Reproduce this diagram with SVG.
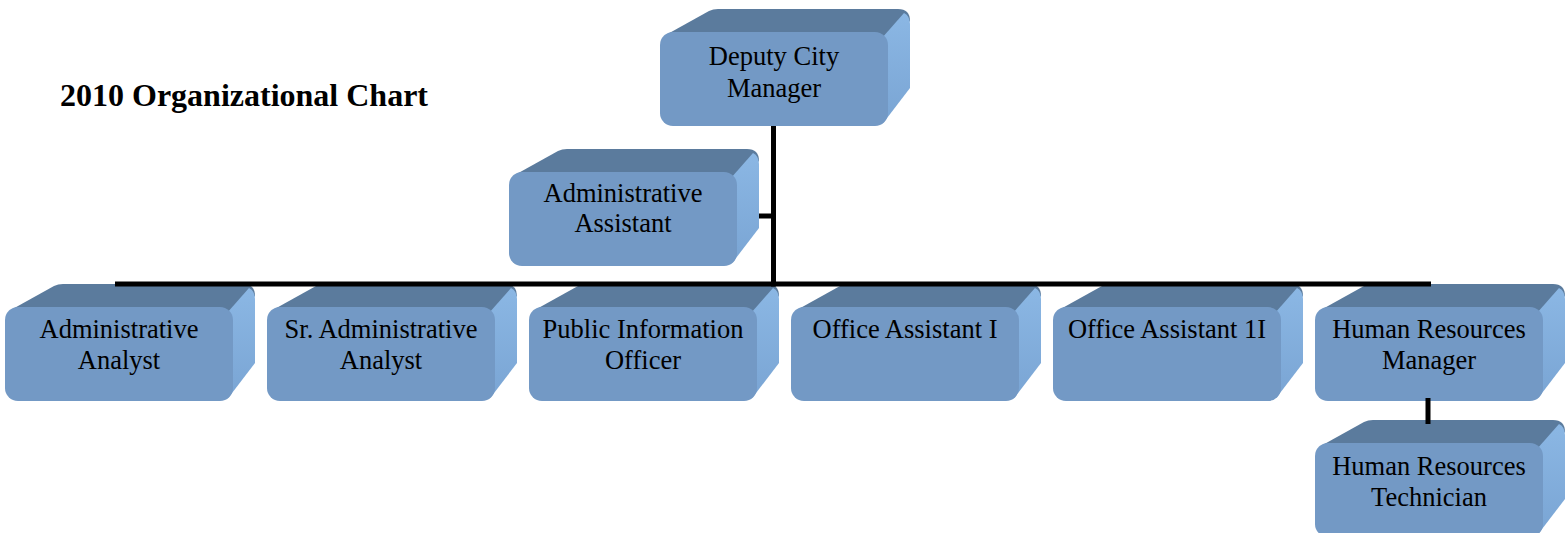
<svg xmlns="http://www.w3.org/2000/svg" xmlns:xlink="http://www.w3.org/1999/xlink" width="1565" height="533" viewBox="0 0 1565 533">
<defs>
<style>
.top{fill:#5B7B9D}
.side{fill:url(#sideGrad)}
.front{fill:#7399C5}
.lbl{font-family:"Liberation Serif","Times New Roman",serif;font-size:26.5px;fill:#000;text-anchor:middle}
.title{font-family:"Liberation Serif","Times New Roman",serif;font-size:32px;font-weight:bold;fill:#000}
.conn{stroke:#000;stroke-width:5;fill:none}
</style>
<linearGradient id="sideGrad" x1="0" y1="0" x2="0" y2="1">
<stop offset="0" stop-color="#8BB7E4"/>
<stop offset="1" stop-color="#7AA5D4"/>
</linearGradient>
<g id="box">
<path class="top" d="M4,4 L49,-21 Q53,-23 58,-23 L238,-23 Q250,-23 250,-11 L228,10 L10,10 Z"/>
<path class="side" d="M222,6 L244,-19 Q250,-16 250,-8 L250,56 L224,90 Z"/>
<rect class="front" x="0" y="0" width="228" height="94" rx="13"/>
</g>
</defs>
<rect width="1565" height="533" fill="#fff"/>
<text class="title" x="60" y="106">2010 Organizational Chart</text>
<g id="n-deputy">
<use xlink:href="#box" x="660" y="32"/>
<text class="lbl" x="774" y="65">Deputy City</text>
<text class="lbl" x="774" y="97">Manager</text>
</g>
<g id="n-adminasst">
<use xlink:href="#box" x="509" y="172"/>
<text class="lbl" x="623" y="202">Administrative</text>
<text class="lbl" x="623" y="232">Assistant</text>
</g>
<g id="n-adminanalyst">
<use xlink:href="#box" x="5" y="307"/>
<text class="lbl" x="119" y="338">Administrative</text>
<text class="lbl" x="119" y="369">Analyst</text>
</g>
<g id="n-sradmin">
<use xlink:href="#box" x="267" y="307"/>
<text class="lbl" x="381" y="338">Sr. Administrative</text>
<text class="lbl" x="381" y="369">Analyst</text>
</g>
<g id="n-pio">
<use xlink:href="#box" x="529" y="307"/>
<text class="lbl" x="643" y="338">Public Information</text>
<text class="lbl" x="643" y="369">Officer</text>
</g>
<g id="n-oa1">
<use xlink:href="#box" x="791" y="307"/>
<text class="lbl" x="905" y="338">Office Assistant I</text>
</g>
<g id="n-oa2">
<use xlink:href="#box" x="1053" y="307"/>
<text class="lbl" x="1167" y="338">Office Assistant 1I</text>
</g>
<g id="n-hrm">
<use xlink:href="#box" x="1315" y="307"/>
<text class="lbl" x="1429" y="338">Human Resources</text>
<text class="lbl" x="1429" y="369">Manager</text>
</g>
<g id="n-hrt">
<use xlink:href="#box" x="1315" y="443"/>
<text class="lbl" x="1429" y="475">Human Resources</text>
<text class="lbl" x="1429" y="506">Technician</text>
</g>
<g id="connectors">
<line class="conn" x1="773.5" y1="126" x2="773.5" y2="286.5"/>
<line class="conn" x1="759" y1="216" x2="776" y2="216"/>
<line class="conn" x1="115" y1="284" x2="1431" y2="284"/>
<line class="conn" x1="1428" y1="398" x2="1428" y2="424"/>
</g>
</svg>
